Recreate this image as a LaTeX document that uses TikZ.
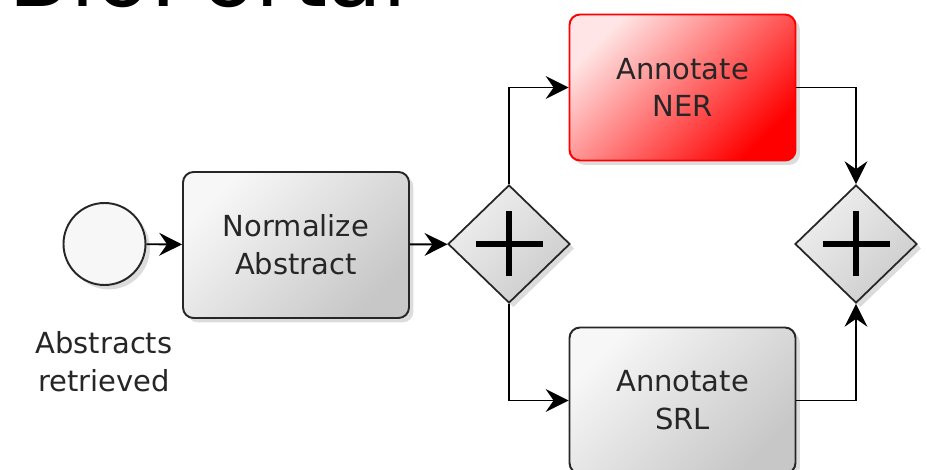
\documentclass[tikz,border=0pt]{standalone}
\usepackage{fontspec}
\setmainfont{DejaVu Sans}
\usepackage{tikz}
\usetikzlibrary{arrows.meta,shapes.geometric,shadows}

\newcommand{\boxfont}{\fontsize{16.5}{21.5}\selectfont}

\begin{document}
\begin{tikzpicture}
        [>={Stealth[length=13pt,width=13pt,inset=4.5pt]}, line width=1.1pt]
            \tikzstyle{task}=[rectangle, rounded corners=6pt, draw=black!85,
        line width=1.1pt, minimum width=4.52cm, minimum height=2.92cm,
        top color=white!97!black, bottom color=black!22, shading angle=45,
        drop shadow={opacity=0.28, shadow xshift=2.5pt, shadow yshift=-2.5pt},
        align=center, font=\boxfont, text=black!85]
            \tikzstyle{hot}=[task, draw=red, top color=red!10, bottom color=red,
        shading angle=45]
            \tikzstyle{gate}=[diamond, draw=black!85, line width=1pt,
        inner sep=0pt, minimum width=2.44cm, minimum height=2.36cm,
        top color=white!94!black, bottom color=black!20, shading angle=45,
        drop shadow={opacity=0.28, shadow xshift=2.5pt, shadow yshift=-2.5pt},
        path picture={\draw[line width=3.4pt, black]
          ([xshift=-0.67cm]path picture bounding box.center) -- ++(1.34cm,0)
          ([yshift=-0.65cm]path picture bounding box.center) -- ++(0,1.30cm);}]
            \tikzstyle{start}=[circle, draw=black!85, line width=1.1pt,
        fill=white!97!black, minimum size=1.64cm, inner sep=0pt,
        drop shadow={opacity=0.28, shadow xshift=2.5pt, shadow yshift=-2.5pt}]
        \useasboundingbox (0,0) rectangle (18.54,9.38);
        \clip (0,0) rectangle (18.54,9.38);
        %-----title, cut off at the top
         \node[anchor=base west, inner sep=0pt, font=\fontsize{51}{60}\selectfont]
           (title) at (0.16,9.24) {BioPortal};
        %-----process
         \node[start]  (retrieved) at (2.09,4.50) {};
         \node[align=center, font=\boxfont, text=black!85]  (retlabel) at (2.08,2.14) {Abstracts\\retrieved};
         \node[task]  (normalize) at (5.92,4.48) {Normalize\\Abstract};
         \node[gate]  (split) at (10.18,4.50) {};
         \node[hot]  (ner) at (13.65,7.63) {Annotate\\NER};
         \node[task]  (srl) at (13.65,1.37) {Annotate\\SRL};
         \node[gate]  (join) at (17.12,4.50) {};

         \draw[->] (retrieved) -- (normalize);
         \draw[->] (normalize) -- (split);
         \foreach \from/\to in {split/ner,split/srl}
         \draw[->] (\from) |- (\to);
         \foreach \from/\to in {ner/join,srl/join}
         \draw[->] (\from) -| (\to);

        \end{tikzpicture}
\end{document}
